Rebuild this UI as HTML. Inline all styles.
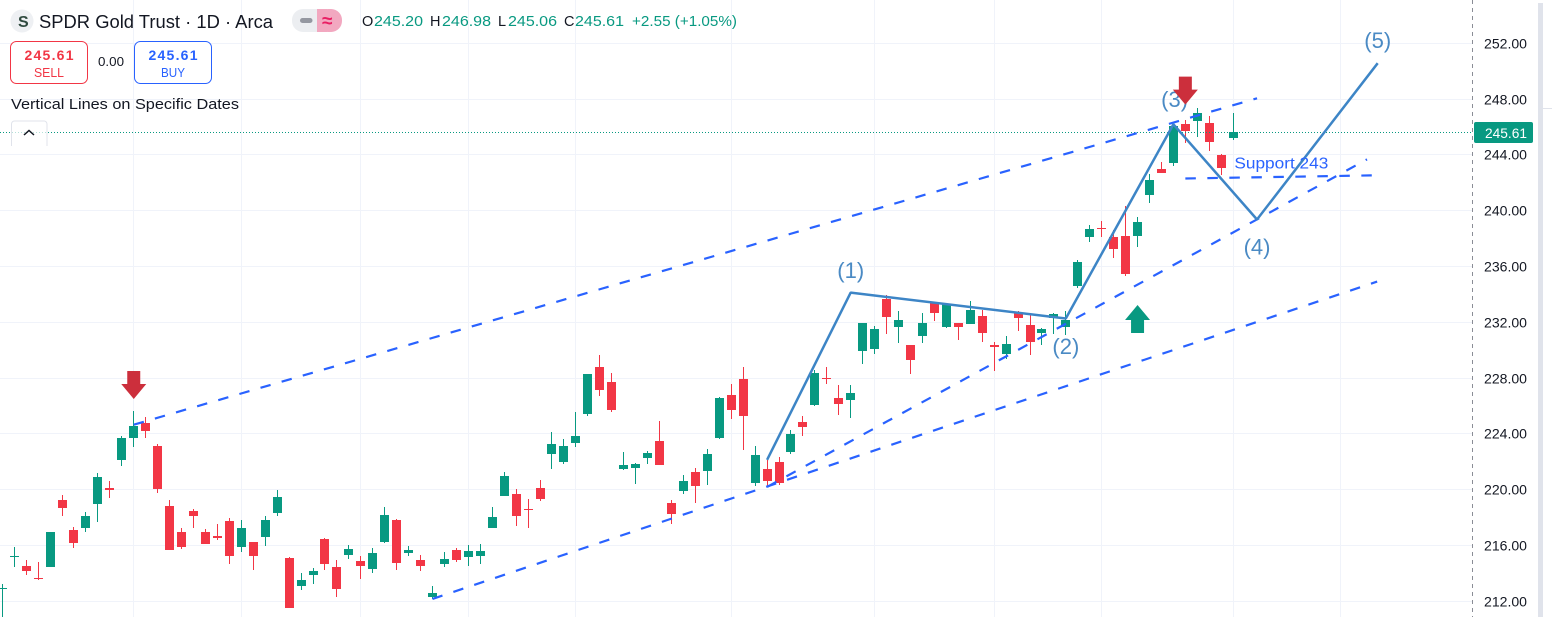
<!DOCTYPE html>
<html lang="en">
<head>
<meta charset="utf-8">
<title>SPDR Gold Trust chart</title>
<style>
html,body{margin:0;padding:0;background:#fff;width:1552px;height:617px;overflow:hidden}
svg{display:block;font-family:"Liberation Sans",sans-serif}
</style>
</head>
<body>
<svg id="chart" xmlns="http://www.w3.org/2000/svg" width="1552" height="617" viewBox="0 0 1552 617">
  <rect x="0" y="0" width="1552" height="617" fill="#ffffff"/>
  <g id="grid"></g>
  <g id="candles"></g>
  <line id="lastLine" x1="0" x2="1472" stroke="#089981" stroke-width="1" stroke-dasharray="1 2"/>
  <g id="drawings"></g>

  <line x1="1472.5" y1="0" x2="1472.5" y2="617" stroke="#8a8d96" stroke-width="1" stroke-dasharray="4 4"/>
  <g id="yaxis"></g>
  <rect id="lastTag" x="1474" y="122" width="59" height="21" rx="2" fill="#089981"/>
  <text id="lastTagText" x="1485" y="138" font-size="14" fill="#ffffff" textLength="42" lengthAdjust="spacingAndGlyphs">245.61</text>
  <rect x="1538" y="3" width="5" height="614" fill="#e0e3eb"/>
  <line x1="1543" y1="108.5" x2="1552" y2="108.5" stroke="#e0e3eb"/>

  <g>
    <circle cx="22" cy="21" r="11.5" fill="#eef0f3"/>
    <text x="18" y="27" font-size="16" font-weight="700" fill="#2f4a3f">S</text>
    <text x="39" y="28" font-size="18.5" fill="#131722" textLength="234" lengthAdjust="spacingAndGlyphs">SPDR Gold Trust · 1D · Arca</text>
    <rect x="292" y="9" width="30" height="23" rx="11" fill="#eceef1"/>
    <rect x="310" y="9" width="7" height="23" fill="#eceef1"/>
    <rect x="300" y="18" width="12.5" height="5" rx="2.5" fill="#9598a1"/>
    <rect x="317" y="9" width="25" height="23" rx="11" fill="#f2a8c0"/>
    <rect x="317" y="9" width="10" height="23" fill="#f2a8c0"/>
    <text x="322" y="27" font-size="19" font-weight="700" fill="#e91e63">≈</text>
    <text x="362" y="26" font-size="14.5" fill="#131722">O</text>
    <text x="374" y="26" font-size="14.5" fill="#089981" textLength="49" lengthAdjust="spacingAndGlyphs">245.20</text>
    <text x="430" y="26" font-size="14.5" fill="#131722">H</text>
    <text x="442" y="26" font-size="14.5" fill="#089981" textLength="49" lengthAdjust="spacingAndGlyphs">246.98</text>
    <text x="498" y="26" font-size="14.5" fill="#131722">L</text>
    <text x="508" y="26" font-size="14.5" fill="#089981" textLength="49" lengthAdjust="spacingAndGlyphs">245.06</text>
    <text x="564" y="26" font-size="14.5" fill="#131722">C</text>
    <text x="575" y="26" font-size="14.5" fill="#089981" textLength="49" lengthAdjust="spacingAndGlyphs">245.61</text>
    <text x="632" y="26" font-size="14.5" fill="#089981" textLength="105" lengthAdjust="spacingAndGlyphs">+2.55 (+1.05%)</text>
  </g>

  <g>
    <rect x="10.5" y="41.5" width="77" height="42" rx="6" fill="#ffffff" stroke="#f23645"/>
    <text x="49" y="60" font-size="14" font-weight="700" fill="#f23645" text-anchor="middle" textLength="49" lengthAdjust="spacing">245.61</text>
    <text x="49" y="77" font-size="13" fill="#f23645" text-anchor="middle" textLength="30" lengthAdjust="spacingAndGlyphs">SELL</text>
  </g>
  <text x="98" y="66" font-size="13" fill="#131722" textLength="26" lengthAdjust="spacingAndGlyphs">0.00</text>
  <g>
    <rect x="134.5" y="41.5" width="77" height="42" rx="6" fill="#ffffff" stroke="#2962ff"/>
    <text x="173" y="60" font-size="14" font-weight="700" fill="#2962ff" text-anchor="middle" textLength="49" lengthAdjust="spacing">245.61</text>
    <text x="173" y="77" font-size="13" fill="#2962ff" text-anchor="middle" textLength="24" lengthAdjust="spacingAndGlyphs">BUY</text>
  </g>
  <text x="11" y="109" font-size="15" fill="#131722" textLength="228" lengthAdjust="spacingAndGlyphs">Vertical Lines on Specific Dates</text>
  <g>
    <path d="M11.5 146V124a3 3 0 0 1 3-3h29.500a3 3 0 0 1 3 3v22" fill="#ffffff" fill-opacity="0.7" stroke="#e0e3eb"/>
    <path d="M24 135l5-4.500 5 4.500" fill="none" stroke="#131722" stroke-width="1.500"/>
  </g>
</svg>
<script>
const opens = [212.88,215.20,214.53,213.67,214.48,219.26,217.11,217.28,218.99,220.12,222.14,223.72,224.77,223.12,218.83,216.96,218.47,216.96,216.68,217.75,215.91,216.25,216.63,218.35,215.10,213.12,213.91,216.46,214.46,215.34,214.89,214.34,216.25,217.82,215.46,214.96,212.31,214.70,215.68,215.20,215.27,217.28,219.57,219.69,218.61,220.12,222.57,222.00,223.36,225.44,228.78,227.71,221.50,221.57,222.29,223.48,219.04,219.92,221.26,221.36,223.72,226.78,227.92,220.48,221.46,221.96,222.70,224.82,226.06,228.04,226.54,226.42,229.93,230.07,233.70,231.65,230.34,231.00,233.41,231.65,231.98,231.86,232.48,230.34,229.71,232.70,231.84,231.22,232.29,231.65,234.61,238.08,238.77,238.12,238.20,238.22,241.09,243.00,243.39,246.23,246.40,246.30,244.00,245.20];
const highs = [213.24,215.89,214.96,214.82,216.96,219.61,217.32,218.40,221.19,220.62,223.84,225.63,225.20,223.27,219.26,217.25,218.61,217.18,217.54,217.97,217.82,216.25,218.11,219.97,215.17,214.03,214.39,216.54,214.96,216.03,215.25,215.82,218.76,217.90,215.96,215.32,213.10,215.53,215.82,216.03,216.11,218.76,221.26,220.04,219.33,220.69,224.13,223.62,225.56,228.28,229.64,228.35,222.69,221.91,222.77,224.91,219.26,221.05,221.55,222.91,226.63,227.56,228.78,223.10,222.10,222.32,224.25,225.25,228.55,228.83,227.47,227.47,231.98,231.77,233.99,232.84,230.34,232.70,233.49,233.41,231.98,233.56,232.91,230.57,231.05,232.84,232.70,231.62,232.70,232.84,236.47,238.98,239.27,238.63,240.35,239.56,242.64,243.51,246.16,246.52,247.38,246.81,244.08,246.98];
const lows = [209.70,214.48,213.91,213.53,214.48,218.13,215.84,216.99,217.70,219.42,221.72,223.08,223.72,219.78,215.68,215.77,217.28,216.13,216.42,214.70,215.56,214.27,215.99,218.13,211.52,212.81,213.27,214.27,212.33,215.06,213.62,214.05,216.18,214.27,215.25,214.20,212.14,214.48,214.84,214.55,214.70,217.25,219.57,217.42,217.28,219.21,221.50,221.86,223.08,225.30,226.73,225.58,221.43,220.43,221.86,221.79,217.56,219.71,219.07,220.35,223.65,225.08,222.86,220.26,220.17,220.33,222.55,223.84,225.99,227.57,225.35,225.13,229.00,229.71,231.15,230.50,228.28,230.50,232.08,231.58,230.72,231.86,230.57,228.50,229.36,231.36,229.64,230.36,231.15,231.08,234.46,237.79,238.08,236.62,235.35,237.43,240.52,242.67,243.17,244.85,245.25,244.25,242.53,245.06];
const closes = [212.93,215.27,214.20,213.60,216.96,218.71,216.20,218.11,220.90,220.00,223.70,224.56,224.22,220.07,215.70,215.91,218.13,216.13,216.56,215.27,217.25,215.27,217.82,219.47,211.52,213.53,214.17,214.70,212.91,215.75,214.55,215.46,218.18,214.77,215.68,214.53,212.60,215.03,214.98,215.60,215.60,218.04,220.98,218.13,218.54,219.35,223.27,223.12,223.84,228.28,227.16,225.73,221.76,221.83,222.62,221.79,218.28,220.62,220.28,222.55,226.56,225.73,225.30,222.46,220.62,220.48,223.96,224.49,228.40,227.97,226.13,226.90,231.98,231.55,232.36,232.13,229.29,231.98,232.65,233.34,231.65,232.91,231.22,230.22,230.41,232.29,230.57,231.55,232.63,232.20,236.33,238.70,238.70,237.26,235.49,239.20,242.21,242.67,246.09,245.68,247.02,244.96,243.03,245.61];
const lastPrice = 245.61;
const priceTicks = [212,216,220,224,228,232,236,240,244,248,252];
const priceTickLabels = ["212.00","216.00","220.00","224.00","228.00","232.00","236.00","240.00","244.00","248.00","252.00"];
const timeGridBars = [11,20,30,39,48,61,73,83,92,103,112];
const waveBars = [64,71,89,98,105,115.1];
const wavePrices = [222.14,234.13,232.27,246.19,239.37,250.57];
const waveLabels = ["(1)","(2)","(3)","(4)","(5)"];
const waveLabelBars = [71,89,98.1,105,115.1];
const waveLabelPrices = [235.7,230.26,247.96,237.4,252.2];
const upperChannelBars = [11,105];
const upperChannelPrices = [224.66,248.06];
const lowerChannelBars = [36,115.05];
const lowerChannelPrices = [212.17,234.92];
const middleChannelBars = [64,114.2];
const middleChannelPrices = [220.2,243.68];
const supportBars = [99,114.6];
const supportPrices = [242.31,242.53];
const supportText = "Support 243";
const supportTextBar = 103.1;
const supportTextPrice = 243.42;
const sellSignalBars = [11,99];
const sellSignalPrices = [226.5,247.6];
const buySignalBars = [95];
const buySignalPrices = [233.24];

const NS = "http://www.w3.org/2000/svg";
function xAxis(bar){ return 2.3 + 11.95 * bar; }
function yAxis(price){ return 601.3 - (price - 212) * 13.95; }
function make(tag, attrs, parent){
  const el = document.createElementNS(NS, tag);
  for (const k in attrs) el.setAttribute(k, attrs[k]);
  parent.appendChild(el);
  return el;
}
const gridG = document.getElementById("grid");
const candlesG = document.getElementById("candles");
const drawG = document.getElementById("drawings");
const axisG = document.getElementById("yaxis");

priceTicks.forEach(function(p, i){
  const y = Math.floor(yAxis(p)) + 0.5;
  const line = make("line", {x1:0, x2:1472, y1:y, y2:y, stroke:"#f0f3fa", "stroke-width":1}, gridG);
  
  
  const t = make("text", {x:1484, y:y + 5, "font-size":13.5, fill:"#131722", textLength:43, lengthAdjust:"spacingAndGlyphs"}, axisG);
  t.textContent = priceTickLabels[i];
  
  
});
timeGridBars.forEach(function(b){
  const x = Math.floor(xAxis(b)) + 0.5;
  const line = make("line", {x1:x, x2:x, y1:0, y2:617, stroke:"#f0f3fa", "stroke-width":1}, gridG);
  
  
});

opens.forEach(function(o, i){
  const c = closes[i];
  const color = c >= o ? "#089981" : "#f23645";
  const px = Math.floor(xAxis(i));
  const g = make("g", {"shape-rendering":"crispEdges"}, candlesG);
  
  
  const yH = Math.round(yAxis(highs[i]));
  const yL = Math.round(yAxis(lows[i]));
  const yT = Math.round(yAxis(Math.max(o, c)));
  const yB = Math.round(yAxis(Math.min(o, c)));
  const wick = make("rect", {x:px, y:yH, width:1, height:Math.max(1, yL - yH), fill:color}, g);
  
  
  const body = make("rect", {x:px - 4, y:yT, width:9, height:Math.max(1, yB - yT), fill:color}, g);
  
  
});

const lastY = Math.floor(yAxis(lastPrice)) + 0.5;
const lastLine = document.getElementById("lastLine");
lastLine.setAttribute("y1", lastY);
lastLine.setAttribute("y2", lastY);
document.getElementById("lastTag").setAttribute("y", lastY - 10.5);
document.getElementById("lastTagText").setAttribute("y", lastY + 5.5);
document.getElementById("lastTagText").textContent = lastPrice.toFixed(2);

function dashed(bars, prices, name){
  const l = make("line", {x1:xAxis(bars[0]), y1:yAxis(prices[0]), x2:xAxis(bars[1]), y2:yAxis(prices[1]), stroke:"#2962ff", "stroke-width":2.2, "stroke-dasharray":"10.500 11.500"}, drawG);
  
  
}
dashed(upperChannelBars, upperChannelPrices, 'upper-channel-line');
dashed(lowerChannelBars, lowerChannelPrices, 'lower-channel-line');
dashed(middleChannelBars, middleChannelPrices, 'middle-channel-line');
dashed(supportBars, supportPrices, 'support-line');

const wavePts = waveBars.map(function(b, i){ return xAxis(b).toFixed(1) + "," + yAxis(wavePrices[i]).toFixed(1); }).join(" ");
const wave = make("polyline", {points:wavePts, fill:"none", stroke:"#3d85c6", "stroke-width":2.5, "stroke-linejoin":"bevel"}, drawG);



waveLabels.forEach(function(txt, i){
  const t = make("text", {x:xAxis(waveLabelBars[i]), y:yAxis(waveLabelPrices[i]) + 7.5, "font-size":22, fill:"#4a8ac4", "text-anchor":"middle"}, drawG);
  t.textContent = txt;
  
  
});

const st = make("text", {x:xAxis(supportTextBar), y:yAxis(supportTextPrice) + 5.5, "font-size":16, fill:"#2962ff", textLength:94, lengthAdjust:"spacingAndGlyphs"}, drawG);
st.textContent = supportText;



sellSignalBars.forEach(function(b, i){
  const x = xAxis(b), y = yAxis(sellSignalPrices[i]);
  const a = make("path", {d:"M"+(x-6.5)+" "+(y-28)+"h13v13h6l-12.500 15l-12.500-15h6z", fill:"#cc2f3c"}, drawG);
  
  
});
buySignalBars.forEach(function(b, i){
  const x = xAxis(b), y = yAxis(buySignalPrices[i]);
  const a = make("path", {d:"M"+x+" "+y+"l12.500 15h-6v13h-13v-13h-6z", fill:"#089981"}, drawG);
  
  
});
</script>
</body>
</html>
